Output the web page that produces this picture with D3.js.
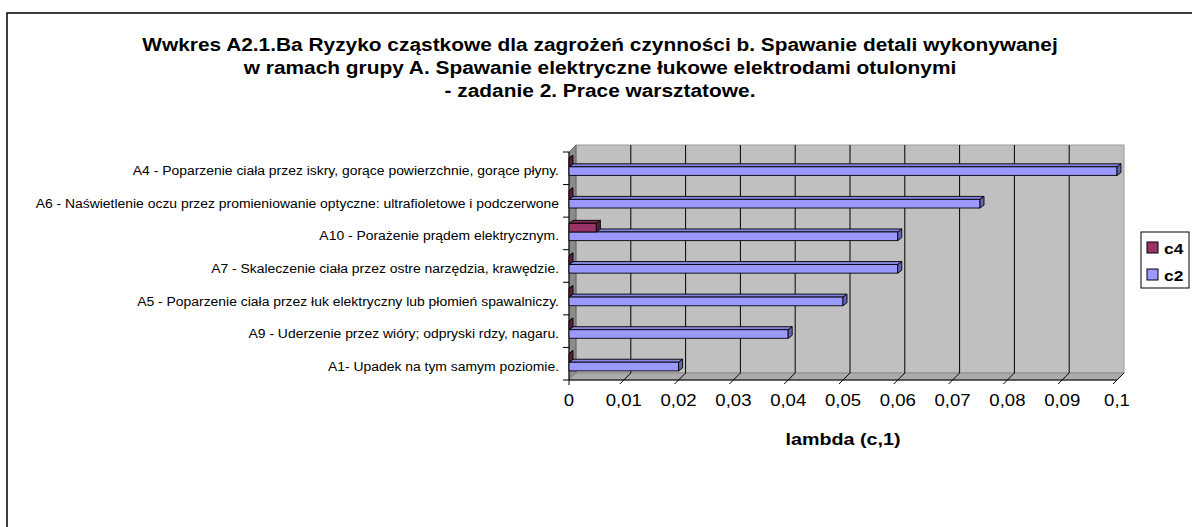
<!DOCTYPE html>
<html><head><meta charset="utf-8">
<script src="https://cdn.jsdelivr.net/npm/d3@7"></script>
<style>
html,body{margin:0;padding:0;background:#fff;overflow:hidden;}
svg{display:block;font-family:"Liberation Sans",Arial,sans-serif;}
</style></head>
<body>
<svg id="chart" width="1192" height="527"></svg>
<script>
// ---- data ----
const titleLines = [
  "Wwkres A2.1.Ba Ryzyko cząstkowe dla zagrożeń czynności b. Spawanie detali wykonywanej",
  "w ramach grupy A. Spawanie elektryczne łukowe elektrodami otulonymi",
  "- zadanie 2. Prace warsztatowe."
];
const categories = [
  "A4 - Poparzenie ciała przez iskry, gorące powierzchnie, gorące płyny.",
  "A6 - Naświetlenie oczu przez promieniowanie optyczne: ultrafioletowe i podczerwone",
  "A10 - Porażenie prądem elektrycznym.",
  "A7 - Skaleczenie ciała przez ostre narzędzia, krawędzie.",
  "A5 - Poparzenie ciała przez łuk elektryczny lub płomień spawalniczy.",
  "A9 - Uderzenie przez wióry; odpryski rdzy, nagaru.",
  "A1- Upadek na tym samym poziomie."
];
const seriesNames = ["c4", "c2"];
const c4Values = [0, 0, 0.005, 0, 0, 0, 0];
const c2Values = [0.1, 0.075, 0.06, 0.06, 0.05, 0.04, 0.02];
const tickValues = [0, 0.01, 0.02, 0.03, 0.04, 0.05, 0.06, 0.07, 0.08, 0.09, 0.1];
const tickLabels = ["0", "0,01", "0,02", "0,03", "0,04", "0,05", "0,06", "0,07", "0,08", "0,09", "0,1"];
const axisTitle = "lambda (c,1)";

// ---- layout ----
const svg = d3.select("#chart");
const SX = 1.16;               // horizontal text stretch of the original
const DX = 7, DY = -7;         // 3D depth of walls
const BDX = 4, BDY = -3;       // 3D depth of bars
const colors = {c4: "#993366", c2: "#9999FF"};
const capColors = {c4: "#5e1f3f", c2: "#6464b4"};
const topColors = {c4: "#7a2952", c2: "#8585e0"};

const x = d3.scaleLinear().domain([0, 0.1]).range([569, 1117]);
const y = d3.scaleBand().domain(categories).range([152, 380]);
const yS = d3.scaleBand().domain(seriesNames).range([y.bandwidth() * 0.19, y.bandwidth() * 0.72]);

function stext(g, tx, ty, str, size, weight, anchor) {
  return g.append("text")
    .attr("transform", `translate(${tx},${ty}) scale(${SX},1)`)
    .attr("font-size", size).attr("font-weight", weight || "normal")
    .attr("text-anchor", anchor || "start").attr("fill", "#000").text(str);
}

// frame
svg.append("rect").attr("x", 7).attr("y", 13).attr("width", 1400).attr("height", 800)
  .attr("fill", "#fff").attr("stroke", "#000").attr("stroke-width", 1.5);

// title
titleLines.forEach((t, i) => stext(svg, 600, 51 + i * 23, t, 18, "bold", "middle"));

const x0 = x(0), x1 = x(0.1), yTop = y.range()[0], yBot = y.range()[1];

// back wall
svg.append("rect").attr("x", x0 + DX).attr("y", yTop + DY)
  .attr("width", x1 - x0).attr("height", yBot - yTop)
  .attr("fill", "#C0C0C0").attr("stroke", "#9a9a9a").attr("stroke-width", 1);
// left wall
svg.append("polygon")
  .attr("points", [[x0, yTop], [x0 + DX, yTop + DY], [x0 + DX, yBot + DY], [x0, yBot]].map(p => p.join(",")).join(" "))
  .attr("fill", "#8c8c8c").attr("stroke", "#555").attr("stroke-width", 0.8);
// floor
svg.append("polygon")
  .attr("points", [[x0, yBot], [x0 + DX, yBot + DY], [x1 + DX, yBot + DY], [x1, yBot]].map(p => p.join(",")).join(" "))
  .attr("fill", "#ababab").attr("stroke", "#8a8a8a").attr("stroke-width", 1);

// gridlines on wall and floor, ticks
const grid = svg.append("g").attr("stroke", "#000").attr("stroke-width", 1);
tickValues.forEach((v, i) => {
  const xv = x(v);
  if (i > 0 && i < tickValues.length - 1) {
    grid.append("line").attr("x1", xv + DX).attr("x2", xv + DX)
      .attr("y1", yTop + DY).attr("y2", yBot + DY);
  }
  if (i > 0) {
    grid.append("line").attr("x1", xv - 4).attr("y1", yBot + 4)
      .attr("x2", xv + DX).attr("y2", yBot + DY);
  } else {
    grid.append("line").attr("x1", xv).attr("x2", xv).attr("y1", yBot).attr("y2", yBot + 5);
  }
});
// front axis lines
grid.append("line").attr("x1", x0).attr("x2", x1).attr("y1", yBot).attr("y2", yBot);
grid.append("line").attr("x1", x0).attr("x2", x0).attr("y1", yTop).attr("y2", yBot);
// category ticks
y.domain().concat([null]).forEach(c => {
  const yy = c === null ? yBot : y(c);
  grid.append("line").attr("x1", x0 - 6).attr("x2", x0).attr("y1", yy).attr("y2", yy);
});

// tick labels
tickValues.forEach((v, i) => stext(svg, x(v), 406, tickLabels[i], 16, "normal", "middle"));
// axis title
stext(svg, 843, 445, axisTitle, 17, "bold", "middle");

// category labels
categories.forEach(c => stext(svg, 559, y(c) + y.bandwidth() / 2 + 7, c, 12, "normal", "end"));

// bars
const barsG = svg.append("g");
categories.forEach((c, ci) => {
  ["c2", "c4"].forEach(s => {
    const v = s === "c2" ? c2Values[ci] : c4Values[ci];
    const yt = y(c) + yS(s), h = yS.bandwidth();
    const xs = x(0), xe = x(v);
    const g = barsG.append("g").attr("stroke", "#000").attr("stroke-width", 0.9).attr("stroke-linejoin", "round");
    g.append("polygon")
      .attr("points", [[xs, yt], [xs + BDX, yt + BDY], [xe + BDX, yt + BDY], [xe, yt]].map(p => p.join(",")).join(" "))
      .attr("fill", topColors[s]);
    g.append("rect").attr("x", xs).attr("y", yt).attr("width", Math.max(0, xe - xs)).attr("height", h)
      .attr("fill", colors[s]);
    g.append("polygon")
      .attr("points", [[xe, yt], [xe + BDX, yt + BDY], [xe + BDX, yt + h + BDY], [xe, yt + h]].map(p => p.join(",")).join(" "))
      .attr("fill", capColors[s]);
  });
});

// legend
const lg = svg.append("g");
lg.append("rect").attr("x", 1141).attr("y", 232).attr("width", 48).attr("height", 56)
  .attr("fill", "#fff").attr("stroke", "#000").attr("stroke-width", 1);
seriesNames.forEach((s, i) => {
  lg.append("rect").attr("x", 1147).attr("y", 242 + i * 27).attr("width", 11).attr("height", 11)
    .attr("fill", colors[s]).attr("stroke", "#000").attr("stroke-width", 1);
  stext(lg, 1164, 254 + i * 27, s, 15, "bold", "start");
});
</script>
</body></html>
